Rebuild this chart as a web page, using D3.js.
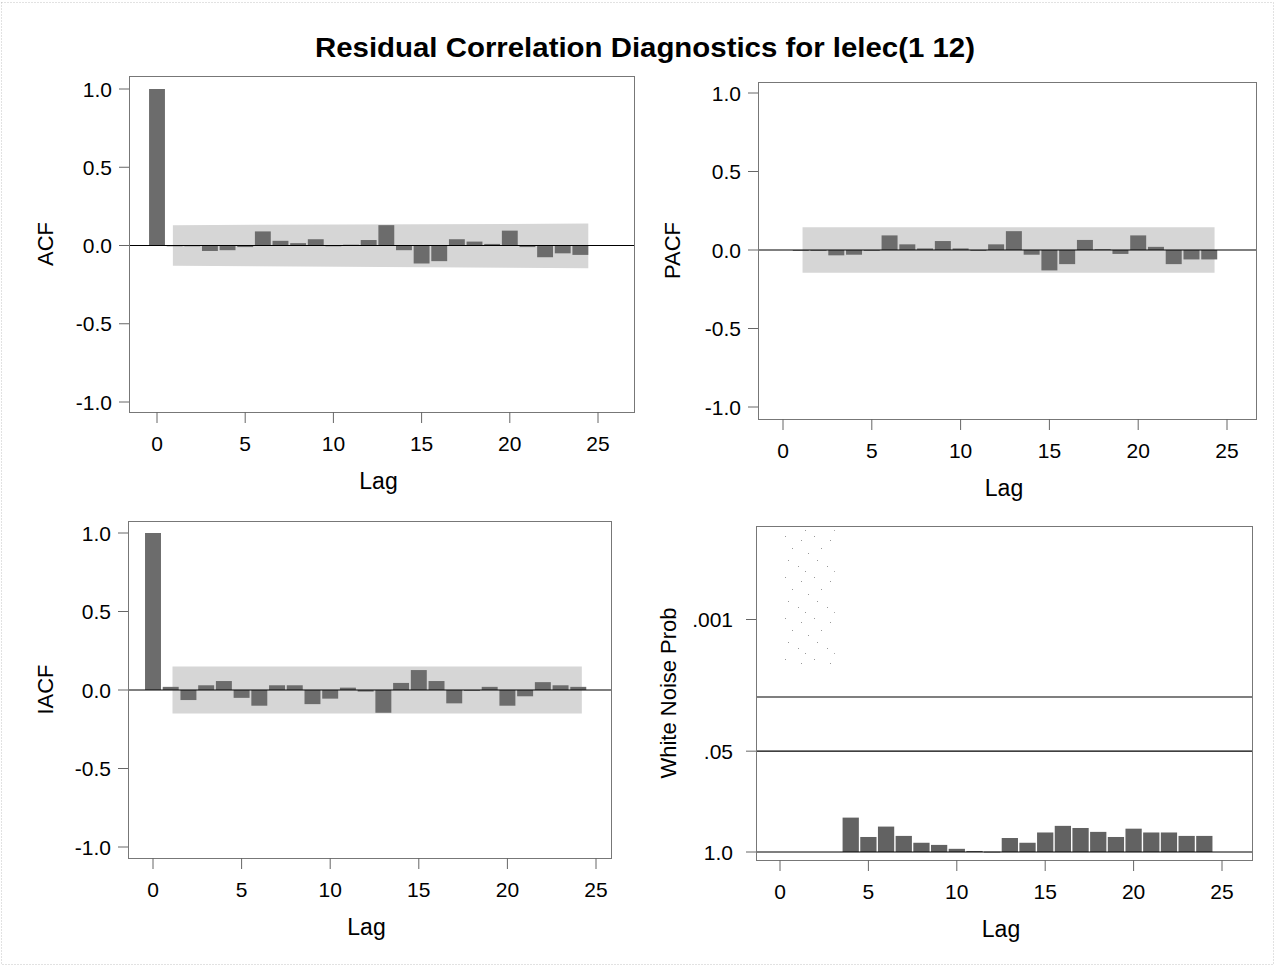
<!DOCTYPE html>
<html>
<head>
<meta charset="utf-8">
<script src="https://cdn.jsdelivr.net/npm/d3@7/dist/d3.min.js"></script>
<style>
  html, body { margin: 0; padding: 0; background: #fff; }
  svg { display: block; }
  text { font-family: "Liberation Sans", Arial, Helvetica, sans-serif; fill: #000; }
</style>
</head>
<body>
<svg id="chart" width="1276" height="967"></svg>
<script>
// ---------------- data ----------------
const lags = d3.range(0, 25);               // 0..24
const xTicks = [0, 5, 10, 15, 20, 25];
const corrTicks = [1.0, 0.5, 0.0, -0.5, -1.0];
const corrTickLabels = ["1.0", "0.5", "0.0", "-0.5", "-1.0"];

const acfValues = [1.0, 0.0, -0.005, -0.035, -0.03, -0.01, 0.09, 0.03, 0.015, 0.04, 0.0, 0.005,
  0.035, 0.13, -0.03, -0.115, -0.10, 0.04, 0.025, 0.01, 0.095, -0.01, -0.075, -0.05, -0.06];
const acfBandLags  = [0.9, 24.45];
const acfBandUpper = [0.13, 0.14];
const acfBandLower = [-0.13, -0.145];

const pacfLags = d3.range(1, 25);
const pacfValues = [0.0, -0.005, -0.034, -0.03, 0.0, 0.093, 0.036, 0.01, 0.057, 0.01, 0.0, 0.036,
  0.12, -0.03, -0.13, -0.09, 0.064, 0.005, -0.025, 0.093, 0.02, -0.09, -0.06, -0.06];
const pacfBandLags  = [1.1, 24.3];
const pacfBandUpper = [0.145, 0.145];
const pacfBandLower = [-0.145, -0.145];

const iacfValues = [1.0, 0.02, -0.064, 0.03, 0.057, -0.05, -0.10, 0.03, 0.03, -0.09, -0.055, 0.015,
  -0.01, -0.145, 0.045, 0.127, 0.057, -0.085, 0.0, 0.02, -0.10, -0.04, 0.05, 0.03, 0.02];
const iacfBandLags  = [1.1, 24.2];
const iacfBandUpper = [0.15, 0.15];
const iacfBandLower = [-0.15, -0.15];

const wnLags = d3.range(4, 25);
const wnProb = [0.36, 0.64, 0.47, 0.62, 0.76, 0.81, 0.91, 0.97, 0.99, 0.66, 0.76, 0.56, 0.46,
  0.49, 0.55, 0.64, 0.50, 0.56, 0.56, 0.62, 0.62];
const wnTicks = [0.001, 0.05, 1.0];
const wnTickLabels = [".001", ".05", "1.0"];
const wnRefLines = [0.01, 0.05, 1.0];
const wnSpeckleLags = [0.2, 3.1];
const wnSpeckleProb = [0.00007, 0.004];

const titleText = "Residual Correlation Diagnostics for lelec(1 12)";

// ---------------- drawing ----------------
const svg = d3.select("#chart");
const FONT = 21;
const barColor = "#6c6c6c";
const bandColor = "#d6d6d6";

// faint page border
svg.append("rect").attr("x", 1.5).attr("y", 2.5).attr("width", 1272).attr("height", 962)
  .attr("fill", "none").attr("stroke", "#c4c4c4").attr("stroke-dasharray", "1,2");

// title
svg.append("text").attr("x", 645).attr("y", 57).attr("text-anchor", "middle")
  .attr("font-size", 27).attr("font-weight", "bold")
  .attr("textLength", 660).attr("lengthAdjust", "spacingAndGlyphs")
  .text(titleText);

// speckle pattern for white-noise plot
const defs = svg.append("defs");
const pat = defs.append("pattern").attr("id", "speckle").attr("patternUnits", "userSpaceOnUse")
  .attr("width", 29).attr("height", 41);
[[2, 3], [18, 7], [9, 15], [25, 20], [5, 27], [15, 33], [22, 38]].forEach(p => {
  pat.append("rect").attr("x", p[0]).attr("y", p[1]).attr("width", 1).attr("height", 1).attr("fill", "#999");
});

function frameAxes(g, f, x, yTickPos, yTickLabels, yTitle, labelGap) {
  g.append("rect").attr("x", f.l + 0.5).attr("y", f.t + 0.5)
    .attr("width", f.r - f.l).attr("height", f.b - f.t)
    .attr("fill", "none").attr("stroke", "#777").attr("stroke-width", 1);
  yTickPos.forEach((py, i) => {
    g.append("line").attr("x1", f.l - 10).attr("x2", f.l).attr("y1", py).attr("y2", py)
      .attr("stroke", "#666");
    g.append("text").attr("x", f.l - labelGap).attr("y", py).attr("dy", "0.36em")
      .attr("text-anchor", "end").attr("font-size", FONT).text(yTickLabels[i]);
  });
  xTicks.forEach(t => {
    g.append("line").attr("x1", x(t)).attr("x2", x(t)).attr("y1", f.b).attr("y2", f.b + 11)
      .attr("stroke", "#666");
    g.append("text").attr("x", x(t)).attr("y", f.b + 39).attr("text-anchor", "middle")
      .attr("font-size", FONT).text(String(t));
  });
  g.append("text").attr("x", (f.l + f.r) / 2 - 3).attr("y", f.b + 77).attr("text-anchor", "middle")
    .attr("font-size", 23).text("Lag");
  g.append("text").attr("transform", `translate(${f.yTitleX},${(f.t + f.b) / 2}) rotate(-90)`)
    .attr("text-anchor", "middle").attr("font-size", 22).text(yTitle);
}

function corrPanel(f, xr, yr, lagList, values, bandLags, bandUp, bandLo, yTitle) {
  const g = svg.append("g");
  const x = d3.scaleLinear().domain([0, 25]).range(xr);
  const y = d3.scaleLinear().domain([-1, 1]).range(yr);
  const step = x(1) - x(0);
  const bw = step * 0.9;
  const bandData = bandLags.map((l, i) => ({ l, u: bandUp[i], d: bandLo[i] }));
  g.append("path").datum(bandData)
    .attr("d", d3.area().x(d => x(d.l)).y0(d => y(d.d)).y1(d => y(d.u)))
    .attr("fill", bandColor);
  g.selectAll("rect.bar").data(lagList.map((l, i) => ({ l, v: values[i] }))).join("rect")
    .attr("class", "bar")
    .attr("x", d => x(d.l) - bw / 2).attr("width", bw)
    .attr("y", d => y(Math.max(0, d.v)))
    .attr("height", d => Math.max(0.8, Math.abs(y(d.v) - y(0))))
    .attr("fill", barColor);
  g.append("line").attr("x1", f.l).attr("x2", f.r).attr("y1", y(0)).attr("y2", y(0))
    .attr("stroke", "#000").attr("stroke-width", 1.2);
  frameAxes(g, f, x, corrTicks.map(t => y(t)), corrTickLabels, yTitle, 17);
}

corrPanel({ l: 129, t: 76, r: 634, b: 412, yTitleX: 53 }, [157, 598], [402, 89],
  lags, acfValues, acfBandLags, acfBandUpper, acfBandLower, "ACF");
corrPanel({ l: 758, t: 82, r: 1256, b: 419, yTitleX: 680 }, [783, 1227], [407, 93],
  pacfLags, pacfValues, pacfBandLags, pacfBandUpper, pacfBandLower, "PACF");
corrPanel({ l: 128, t: 521, r: 611, b: 858, yTitleX: 53 }, [153, 596], [847, 533],
  lags, iacfValues, iacfBandLags, iacfBandUpper, iacfBandLower, "IACF");

// white noise panel
(function () {
  const f = { l: 756, t: 526, r: 1252, b: 860, yTitleX: 676 };
  const g = svg.append("g");
  const x = d3.scaleLinear().domain([0, 25]).range([780, 1222]);
  const y = d3.scaleLog().domain([1, 0.001]).range([852, 852 - 3 * 77.5]);
  const bw = (x(1) - x(0)) * 0.92;
  g.append("rect").attr("x", x(wnSpeckleLags[0])).attr("width", x(wnSpeckleLags[1]) - x(wnSpeckleLags[0]))
    .attr("y", y(wnSpeckleProb[0])).attr("height", y(wnSpeckleProb[1]) - y(wnSpeckleProb[0]))
    .attr("fill", "url(#speckle)");
  g.selectAll("rect.bar").data(wnLags.map((l, i) => ({ l, p: wnProb[i] }))).join("rect")
    .attr("class", "bar")
    .attr("x", d => x(d.l) - bw / 2).attr("width", bw)
    .attr("y", d => y(d.p)).attr("height", d => Math.max(0.8, y(1) - y(d.p)))
    .attr("fill", "#626262");
  wnRefLines.forEach(p => {
    g.append("line").attr("x1", f.l).attr("x2", f.r).attr("y1", y(p)).attr("y2", y(p))
      .attr("stroke", "#000").attr("stroke-width", 1.2);
  });
  frameAxes(g, f, x, wnTicks.map(t => y(t)), wnTickLabels, "White Noise Prob", 23);
})();
</script>
</body>
</html>
